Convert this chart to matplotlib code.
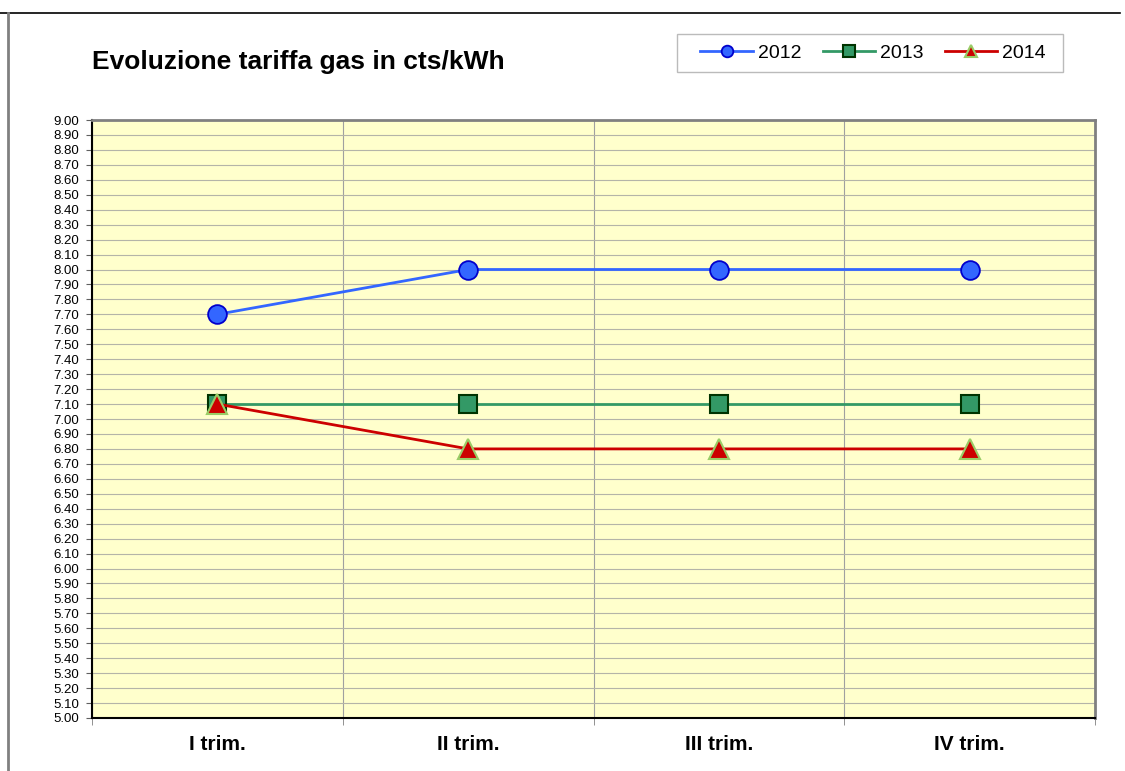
import numpy as np
import matplotlib.pyplot as plt
from matplotlib.lines import Line2D
from matplotlib.patches import Rectangle

categories = ['I trim.', 'II trim.', 'III trim.', 'IV trim.']
years = ['2012', '2013', '2014']
values_2012 = [7.70, 8.00, 8.00, 8.00]
values_2013 = [7.10, 7.10, 7.10, 7.10]
values_2014 = [7.10, 6.80, 6.80, 6.80]

plt.rcParams['font.family'] = ['Liberation Sans', 'DejaVu Sans']

fig = plt.figure(figsize=(11.25, 7.71), dpi=100)
W, H = 1125, 771
ax = fig.add_axes([92 / W, 1 - 718 / H, (1095 - 92) / W, (718 - 120) / H])
ax.set_facecolor('#FFFFCC')

x = np.arange(len(categories))
ax.plot(x, values_2012, color='#3366FF', lw=2, marker='o', ms=13.5,
        mfc='#3366FF', mec='#0000CC', mew=1.3, label=years[0], zorder=3)
ax.plot(x, values_2013, color='#339966', lw=2, marker='s', ms=13.5,
        mfc='#339966', mec='#003300', mew=1.5, label=years[1], zorder=3)
ax.plot(x, values_2014, color='#CC0000', lw=2, marker='^', ms=15,
        mfc='#CC0000', mec='#99CC66', mew=1.5, label=years[2], zorder=4)

ax.set_xlim(-0.5, 3.5)
ax.set_ylim(5.0, 9.0)
yt = np.arange(5.0, 9.001, 0.1)
ax.set_yticks(yt)
ax.set_yticklabels(['%.2f' % v for v in yt], fontsize=9.5)
ax.set_xticks(x)
ax.set_xticklabels(categories, fontsize=15, fontweight='bold')
ax.tick_params(axis='x', which='major', length=0, pad=12)
ax.set_xticks(np.arange(-0.5, 3.6, 1), minor=True)
ax.tick_params(axis='x', which='minor', length=5, color='#808080')
ax.tick_params(axis='y', length=4, pad=5, color='#606060')
ax.grid(axis='y', color='#B4B4A8', lw=0.8)
ax.grid(axis='x', which='minor', color='#A0A0A0', lw=0.8)
ax.set_axisbelow(True)

for side in ['top', 'right']:
    ax.spines[side].set_color('#808080')
    ax.spines[side].set_linewidth(2)
for side in ['left', 'bottom']:
    ax.spines[side].set_color('black')
    ax.spines[side].set_linewidth(1.5)

fig.text(92 / W, 1 - 62 / H, 'Evoluzione tariffa gas in cts/kWh',
         fontsize=19, fontweight='bold', va='center', ha='left')

# legend box drawn separately so its padding matches
fig.add_artist(Rectangle((677 / W, 1 - 72 / H), (1063 - 677) / W, (72 - 34) / H,
                         transform=fig.transFigure, facecolor='white',
                         edgecolor='#BBBBBB', lw=1))
leg = fig.legend(loc='center', bbox_to_anchor=((677 + 1063) / 2 / W + 3 / W, 1 - 53 / H),
                 ncol=3, fontsize=14, frameon=False,
                 handlelength=2.7, columnspacing=1.1, handletextpad=0.25,
                 markerscale=0.62)

fig.add_artist(Line2D([0, 1120 / W], [1 - 13 / H, 1 - 13 / H], color='black', lw=1.2))
fig.add_artist(Line2D([8 / W, 8 / W], [0, 1 - 13 / H], color='#808080', lw=2))

fig.savefig('out.png', dpi=100)
